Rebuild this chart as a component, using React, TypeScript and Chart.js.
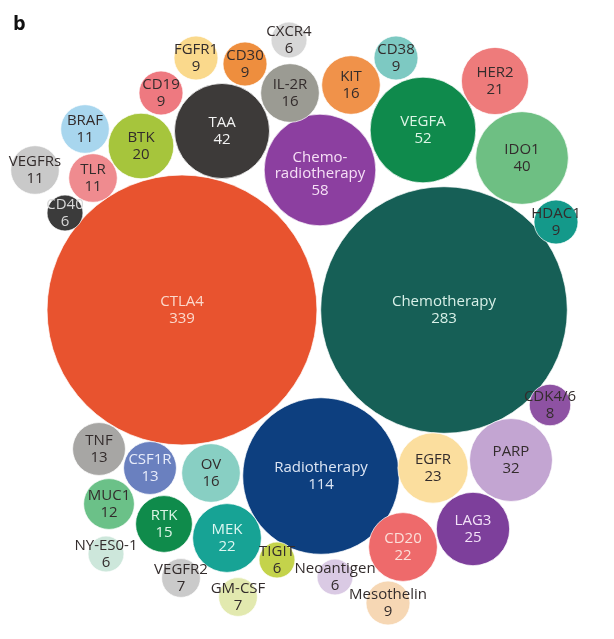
import React, { useEffect, useRef } from "react";
import { Chart, registerables } from "chart.js";

Chart.register(...registerables);

// ---- data ----
const names = [
  "CTLA4", "Chemotherapy", "Radiotherapy", "Chemo-\nradiotherapy", "VEGFA", "TAA", "IDO1", "PARP",
  "LAG3", "EGFR", "CD20", "MEK", "HER2", "BTK", "KIT", "IL-2R", "OV", "RTK", "TNF", "CSF1R",
  "MUC1", "BRAF", "VEGFRs", "TLR", "FGFR1", "CD30", "CD19", "CD38", "HDAC1", "Mesothelin",
  "CDK4/6", "VEGFR2", "GM-CSF", "CXCR4", "CD40", "NY-ES0-1", "TIGIT", "Neoantigen",
];
const values = [
  339, 283, 114, 58, 52, 42, 40, 32,
  25, 23, 22, 22, 21, 20, 16, 16, 16, 15, 13, 13,
  12, 11, 11, 11, 9, 9, 9, 9, 9, 9,
  8, 7, 7, 6, 6, 6, 6, 6,
];
// layout coordinates of bubble centres (packed-bubble layout)
const xPos = [
  182, 444, 321, 320, 423, 222, 522, 511,
  473, 433, 403, 227, 495, 141, 351, 290, 211, 164, 99, 150,
  109, 85, 35, 93, 196, 245, 161, 396, 556, 388,
  550, 181, 238, 289, 65, 106, 277, 335,
];
const yPos = [
  310, 310, 476, 170, 130, 131, 158, 460,
  529, 468, 547, 538, 81, 146, 85, 93, 473, 524, 449, 468,
  504, 129, 170, 178, 58, 64, 93, 58, 222, 603,
  405, 578, 597, 40, 213, 554, 560, 577,
];
const colors = [
  "#E8532F", "#165F56", "#0D3F7F", "#8C3FA0", "#0F8A4C", "#3D3A39", "#6EBF83", "#C3A5D2",
  "#7D3F9B", "#FBDE9E", "#EE6A6B", "#17A395", "#EE7B7B", "#A6C53C", "#F0924A", "#9B9B93", "#88CFC3", "#0F8B4B", "#A7A6A4", "#6A80BF",
  "#6BC188", "#A8D6EE", "#C9C9C9", "#EF8B8F", "#FAD98C", "#EE8E3E", "#EE7980", "#7DC9C2", "#14998A", "#F6D7B4",
  "#8E52A3", "#CACACA", "#E2E9AF", "#D7D7D7", "#3B3B3B", "#CDE7DB", "#C4D34B", "#DACAE4",
];
const DARK = "#332C2C";
const textColors = [
  "#FBD9CC", "#D8F0E8", "#DDE6F4", "#F6E0F6", "#DDF5E6", "#F2F2F2", DARK, DARK,
  "#F3E2F8", DARK, "#FBE0DA", "#DDF7F2", DARK, DARK, DARK, DARK, DARK, "#DDF5E6", DARK, "#E8ECFA",
  DARK, DARK, DARK, DARK, DARK, DARK, DARK, DARK, DARK, DARK,
  DARK, DARK, DARK, DARK, "#D8D8D8", DARK, DARK, DARK,
];

const W = 614;
const H = 639;
const RADIUS_PER_SQRT = 7.33;

const labelPlugin = {
  id: "bubbleLabels",
  afterDatasetsDraw(chart: any) {
    const ctx = chart.ctx;
    const meta = chart.getDatasetMeta(0);
    ctx.save();
    ctx.textAlign = "center";
    ctx.textBaseline = "middle";
    meta.data.forEach((el: any, i: number) => {
      const lines = names[i].split("\n").concat(String(values[i]));
      const size = 15;
      const lh = 16.5;
      ctx.font = `${size}px "Open Sans", sans-serif`;
      ctx.fillStyle = textColors[i];
      const shift = lines.length > 2 ? 4 : 0;
      const start = el.y - ((lines.length - 1) * lh) / 2 + shift;
      lines.forEach((ln: string, j: number) => {
        ctx.fillText(ln, el.x, start + j * lh);
      });
    });
    ctx.font = `bold 20px "Open Sans", sans-serif`;
    ctx.fillStyle = "#111";
    ctx.textAlign = "left";
    ctx.textBaseline = "alphabetic";
    ctx.fillText("b", 13, 30);
    ctx.restore();
  },
};

export default function App() {
  const ref = useRef<HTMLCanvasElement | null>(null);
  useEffect(() => {
    if (!ref.current) return;
    const chart = new Chart(ref.current, {
      type: "bubble",
      data: {
        datasets: [
          {
            data: values.map((v, i) => ({ x: xPos[i], y: yPos[i], r: RADIUS_PER_SQRT * Math.sqrt(v) })),
            backgroundColor: colors,
            borderColor: "rgba(255,255,255,0.7)",
            borderWidth: 1,
            clip: false as any,
          },
        ],
      },
      options: {
        animation: false,
        responsive: false,
        events: [],
        layout: { padding: 0, autoPadding: false },
        scales: {
          x: { type: "linear", min: 0, max: W, display: false },
          y: { type: "linear", min: 0, max: H, reverse: true, display: false },
        },
        plugins: { legend: { display: false }, tooltip: { enabled: false } },
      },
      plugins: [labelPlugin],
    });
    return () => chart.destroy();
  }, []);
  return (
    <div style={{ position: "absolute", left: 0, top: 0, width: W, height: H, background: "#fff" }}>
      <canvas ref={ref} width={W} height={H} />
    </div>
  );
}
